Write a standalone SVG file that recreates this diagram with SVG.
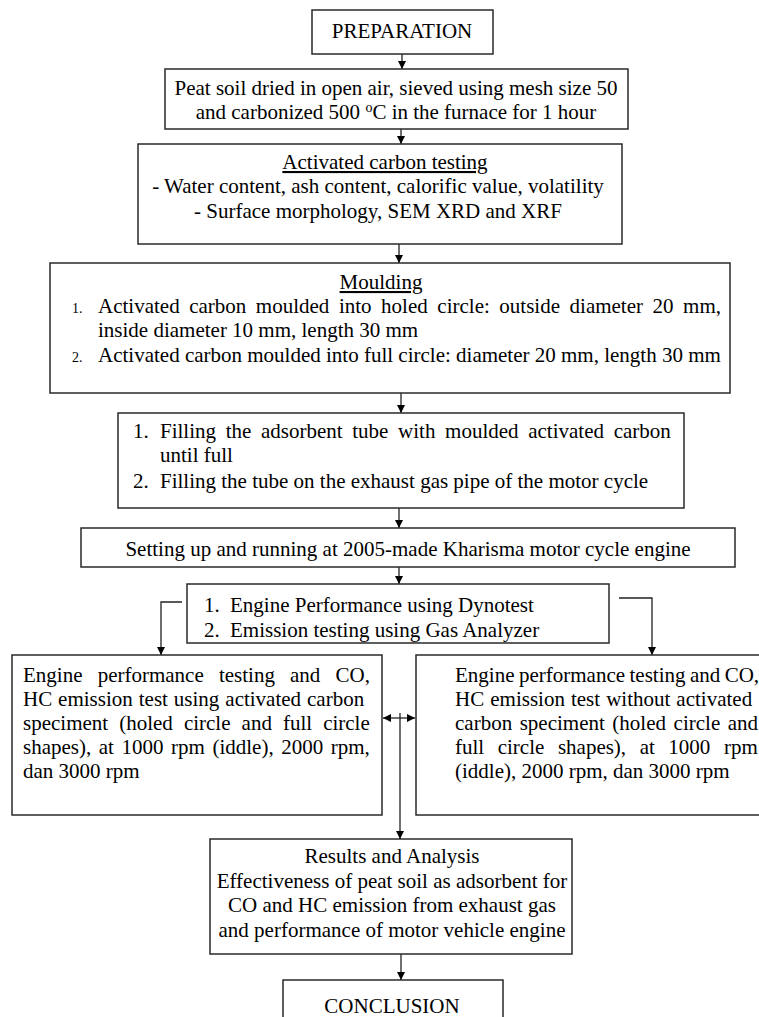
<svg xmlns="http://www.w3.org/2000/svg" width="759" height="1017" viewBox="0 0 759 1017">
<style>
text{font-family:"Liberation Serif","Times New Roman",serif;font-size:21px;fill:#000}
.box{fill:#fff;stroke:#2a2a2a;stroke-width:1.5}
.c{text-anchor:middle}
.u{text-decoration:underline}
.sm{font-size:14px}
.con{fill:none;stroke:#222;stroke-width:1.3}
</style>
<defs>
<marker id="ah" viewBox="0 0 10 10" refX="10" refY="5" markerWidth="8" markerHeight="9" markerUnits="userSpaceOnUse" orient="auto-start-reverse"><path d="M0,0 L10,5 L0,10 z" fill="#000"/></marker>
</defs>
<rect width="759" height="1017" fill="#fff"/>
<g id="connectors">
<path class="con" d="M402,54 V69" marker-end="url(#ah)"/>
<path class="con" d="M401,129 V144" marker-end="url(#ah)"/>
<path class="con" d="M399,244 V263" marker-end="url(#ah)"/>
<path class="con" d="M401,393 V413" marker-end="url(#ah)"/>
<path class="con" d="M399,508 V528" marker-end="url(#ah)"/>
<path class="con" d="M399,567 V584" marker-end="url(#ah)"/>
<path class="con" d="M182,602 H161 V655" marker-end="url(#ah)"/>
<path class="con" d="M619,598 H652 V655" marker-end="url(#ah)"/>
<path class="con" d="M383,718 H415" marker-start="url(#ah)" marker-end="url(#ah)"/>
<path class="con" d="M400,713 V839" marker-end="url(#ah)"/>
<path class="con" d="M401,954 V980" marker-end="url(#ah)"/>
</g>
<g id="preparation">
<rect class="box" x="312" y="10" width="181" height="44"/>
<text class="c" x="402" y="38">PREPARATION</text>
</g>
<g id="drying">
<rect class="box" x="165" y="69" width="463" height="60"/>
<text class="c" x="396" y="95">Peat soil dried in open air, sieved using mesh size 50</text>
<text class="c" x="396" y="119">and carbonized 500 <tspan class="sm" dy="-7">o</tspan><tspan dy="7">C in the furnace for 1 hour</tspan></text>
</g>
<g id="testing">
<rect class="box" x="138" y="144" width="484" height="100"/>
<text class="c u" x="385" y="169">Activated carbon testing</text>
<text class="c" x="378" y="193">- Water content, ash content, calorific value, volatility</text>
<text class="c" x="378" y="218">- Surface morphology, SEM XRD and XRF</text>
</g>
<g id="moulding">
<rect class="box" x="50" y="263" width="680" height="130"/>
<text class="c u" x="381" y="289">Moulding</text>
<text class="sm" x="72" y="313">1.</text>
<text x="98" y="313" word-spacing="4.3">Activated carbon moulded into holed circle: outside diameter 20 mm,</text>
<text x="98" y="337">inside diameter 10 mm, length 30 mm</text>
<text class="sm" x="72" y="362">2.</text>
<text x="98" y="362">Activated carbon moulded into full circle: diameter 20 mm, length 30 mm</text>
</g>
<g id="filling">
<rect class="box" x="118" y="413" width="566" height="95"/>
<text x="133" y="438">1.</text>
<text x="160" y="438" word-spacing="4.4">Filling the adsorbent tube with moulded activated carbon</text>
<text x="160" y="462">until full</text>
<text x="133" y="488">2.</text>
<text x="160" y="488">Filling the tube on the exhaust gas pipe of the motor cycle</text>
</g>
<g id="setup">
<rect class="box" x="81" y="528" width="654" height="39"/>
<text class="c" x="408" y="556">Setting up and running at 2005-made Kharisma motor cycle engine</text>
</g>
<g id="methods">
<rect class="box" x="187" y="584" width="422" height="59"/>
<text x="204" y="612">1.</text>
<text x="230" y="612">Engine Performance using Dynotest</text>
<text x="204" y="637">2.</text>
<text x="230" y="637">Emission testing using Gas Analyzer</text>
</g>
<g id="with-carbon">
<rect class="box" x="12" y="655" width="370" height="160"/>
<text x="23" y="682" word-spacing="9.9">Engine performance testing and CO,</text>
<text x="23" y="706" word-spacing="0.7">HC emission test using activated carbon</text>
<text x="23" y="730" word-spacing="5.8">speciment (holed circle and full circle</text>
<text x="23" y="754" word-spacing="2.3">shapes), at 1000 rpm (iddle), 2000 rpm,</text>
<text x="23" y="778">dan 3000 rpm</text>
</g>
<g id="without-carbon">
<rect class="box" x="416" y="655" width="360" height="160"/>
<text x="455" y="682" word-spacing="-0.8">Engine performance testing and CO,</text>
<text x="455" y="706" word-spacing="0.8">HC emission test without activated</text>
<text x="455" y="730" word-spacing="2.3">carbon speciment (holed circle and</text>
<text x="455" y="754" word-spacing="8.3">full circle shapes), at 1000 rpm</text>
<text x="455" y="778">(iddle), 2000 rpm, dan 3000 rpm</text>
</g>
<g id="results">
<rect class="box" x="210" y="839" width="362" height="115"/>
<text class="c" x="392" y="863">Results and Analysis</text>
<text class="c" x="392" y="888">Effectiveness of peat soil as adsorbent for</text>
<text class="c" x="392" y="912">CO and HC emission from exhaust gas</text>
<text class="c" x="392" y="937">and performance of motor vehicle engine</text>
</g>
<g id="conclusion">
<rect class="box" x="283" y="980" width="220" height="50"/>
<text class="c" x="392" y="1013">CONCLUSION</text>
</g>
</svg>
